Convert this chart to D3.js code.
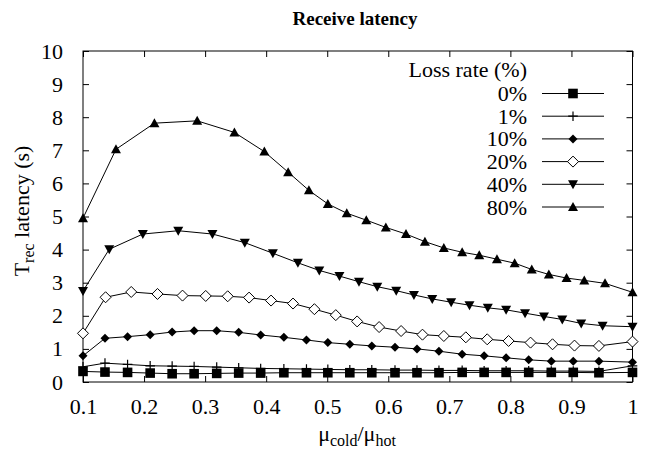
<!DOCTYPE html>
<html><head><meta charset="utf-8">
<script src="https://cdn.jsdelivr.net/npm/d3@7"></script>
<style>
html,body{margin:0;padding:0;background:#fff;}
</style></head>
<body><svg id="chart" width="645" height="454" font-family="Liberation Serif"></svg>
<script>
const title = "Receive latency";
const legendTitle = "Loss rate (%)";
const seriesNames = ["0%", "1%", "10%", "20%", "40%", "80%"];
const xTicks = [0.1,0.2,0.3,0.4,0.5,0.6,0.7,0.8,0.9,1];
const yTicks = [0,1,2,3,4,5,6,7,8,9,10];

const xLow = [0.1,0.136,0.173,0.210,0.246,0.282,0.319,0.355,0.391,0.429,0.466,0.501,0.537,0.573,0.611,0.647,0.683,0.721,0.757,0.793,0.830,0.867,0.903,0.945,1.0];
const x20 = [0.1,0.137,0.179,0.222,0.263,0.301,0.337,0.372,0.408,0.444,0.479,0.514,0.549,0.585,0.621,0.656,0.691,0.727,0.762,0.797,0.833,0.869,0.905,0.945,1.0];
const x40 = [0.1,0.143,0.198,0.256,0.312,0.365,0.411,0.452,0.487,0.520,0.552,0.582,0.613,0.642,0.672,0.703,0.733,0.763,0.793,0.824,0.855,0.885,0.916,0.951,1.0];
const x80 = [0.1,0.154,0.217,0.287,0.348,0.397,0.436,0.470,0.501,0.532,0.564,0.596,0.629,0.660,0.691,0.721,0.749,0.778,0.807,0.835,0.863,0.892,0.921,0.955,1.0];

const y0 = [0.32,0.30,0.29,0.27,0.25,0.25,0.26,0.27,0.27,0.28,0.28,0.28,0.28,0.28,0.28,0.28,0.28,0.29,0.29,0.29,0.29,0.29,0.29,0.28,0.29];
const y1 = [0.46,0.57,0.53,0.49,0.48,0.47,0.45,0.43,0.41,0.40,0.39,0.38,0.37,0.37,0.36,0.36,0.35,0.35,0.34,0.34,0.34,0.33,0.33,0.32,0.49];
const y10 = [0.79,1.32,1.37,1.43,1.51,1.55,1.55,1.50,1.42,1.35,1.27,1.19,1.14,1.09,1.05,1.00,0.93,0.84,0.79,0.73,0.67,0.63,0.63,0.63,0.60];
const y20 = [1.47,2.56,2.72,2.66,2.61,2.60,2.59,2.55,2.46,2.37,2.20,2.02,1.83,1.66,1.54,1.43,1.39,1.35,1.29,1.24,1.19,1.14,1.10,1.09,1.22];
const y40 = [2.75,4.01,4.47,4.57,4.47,4.21,3.89,3.60,3.37,3.20,3.03,2.88,2.76,2.63,2.51,2.41,2.32,2.24,2.18,2.08,1.98,1.89,1.77,1.70,1.67];
const y80 = [4.95,7.03,7.82,7.89,7.54,6.96,6.34,5.79,5.38,5.10,4.89,4.67,4.47,4.24,4.05,3.92,3.83,3.71,3.59,3.40,3.25,3.14,3.07,2.98,2.71];

const seriesX = [xLow, xLow, xLow, x20, x40, x80];
const seriesY = [y0, y1, y10, y20, y40, y80];
const markers = ["square","plus","diamondFilled","diamondOpen","triDown","triUp"];

const FONT = "Liberation Serif";
const FS = 22;
const svg = d3.select("#chart");
const m = {left:83, right:632.5, top:51, bottom:382};
const x = d3.scaleLinear().domain([0.1,1]).range([m.left, m.right]);
const y = d3.scaleLinear().domain([0,10]).range([m.bottom, m.top]);

function txt(sel){ return sel.append("text").attr("font-family", FONT).attr("fill","#000"); }

// title
txt(svg).attr("x", 355).attr("y", 25).attr("text-anchor","middle")
  .attr("font-weight","bold").attr("font-size", 19).text(title);

// frame
svg.append("rect").attr("x", m.left).attr("y", m.top)
  .attr("width", m.right-m.left).attr("height", m.bottom-m.top)
  .attr("fill","none").attr("stroke","#000").attr("stroke-width",1);

function styleAxis(g){
  g.attr("font-family", FONT).attr("font-size", FS);
  g.select(".domain").remove();
  g.selectAll("line").attr("stroke","#000");
  g.selectAll("text").attr("font-family", FONT).attr("font-size", FS).attr("fill","#000");
}
svg.append("g").attr("transform",`translate(0,${m.bottom})`)
  .call(d3.axisBottom(x).tickValues(xTicks).tickSize(-6).tickPadding(16).tickFormat(d=>String(d)))
  .call(styleAxis);
svg.append("g").attr("transform",`translate(0,${m.top})`)
  .call(d3.axisTop(x).tickValues(xTicks).tickSize(-6).tickFormat(""))
  .call(styleAxis);
svg.append("g").attr("transform",`translate(${m.left},0)`)
  .call(d3.axisLeft(y).tickValues(yTicks).tickSize(-6).tickPadding(20).tickFormat(d=>String(d)))
  .call(styleAxis);
svg.append("g").attr("transform",`translate(${m.right},0)`)
  .call(d3.axisRight(y).tickValues(yTicks).tickSize(-6).tickFormat(""))
  .call(styleAxis);

// axis labels
const yl = txt(svg).attr("transform","translate(29,211) rotate(-90)")
  .attr("text-anchor","middle").attr("font-size",FS);
yl.append("tspan").text("T");
yl.append("tspan").attr("font-size",16).attr("dy",5).text("rec");
yl.append("tspan").attr("dy",-5).text(" latency (s)");

const xl = txt(svg).attr("x", 357).attr("y", 441).attr("text-anchor","middle").attr("font-size",FS);
xl.append("tspan").text("μ");
xl.append("tspan").attr("font-size",16).attr("dy",5).text("cold");
xl.append("tspan").attr("dy",-5).text("/μ");
xl.append("tspan").attr("font-size",16).attr("dy",5).text("hot");

// markers
function drawMarker(g, type, cx, cy){
  const s = 4.8;
  if(type==="square"){
    g.append("rect").attr("x",cx-s).attr("y",cy-s).attr("width",2*s).attr("height",2*s).attr("fill","#000");
  } else if(type==="plus"){
    g.append("path").attr("d",`M${cx-s},${cy}H${cx+s}M${cx},${cy-s}V${cy+s}`).attr("stroke","#000").attr("stroke-width",1.2);
  } else if(type==="diamondFilled"){
    const d=4.5;
    g.append("path").attr("d",`M${cx},${cy-d}L${cx+d},${cy}L${cx},${cy+d}L${cx-d},${cy}Z`).attr("fill","#000");
  } else if(type==="diamondOpen"){
    const d=5.5;
    g.append("path").attr("d",`M${cx},${cy-d}L${cx+d},${cy}L${cx},${cy+d}L${cx-d},${cy}Z`).attr("fill","#fff").attr("stroke","#000").attr("stroke-width",1);
  } else if(type==="triDown"){
    g.append("path").attr("d",`M${cx-5},${cy-4}L${cx+5},${cy-4}L${cx},${cy+5}Z`).attr("fill","#000");
  } else if(type==="triUp"){
    g.append("path").attr("d",`M${cx-5},${cy+4}L${cx+5},${cy+4}L${cx},${cy-5}Z`).attr("fill","#000");
  }
}

const line = d3.line().x(d=>x(d[0])).y(d=>y(d[1]));
seriesNames.forEach((name,i)=>{
  const pts = seriesX[i].map((xv,j)=>[xv, seriesY[i][j]]);
  const g = svg.append("g");
  g.append("path").datum(pts).attr("d",line).attr("fill","none").attr("stroke","#000").attr("stroke-width",1);
  pts.forEach(p=>drawMarker(g, markers[i], x(p[0]), y(p[1])));
});

// legend
const lg = svg.append("g");
txt(lg).attr("x",527).attr("y",77).attr("text-anchor","end").attr("font-size",FS).text(legendTitle);
seriesNames.forEach((name,i)=>{
  const cy = 93.5 + i*22.7;
  txt(lg).attr("x",527).attr("y",cy+7.5).attr("text-anchor","end").attr("font-size",FS).text(name);
  lg.append("line").attr("x1",542).attr("x2",604).attr("y1",cy).attr("y2",cy).attr("stroke","#000").attr("stroke-width",1);
  drawMarker(lg, markers[i], 573, cy);
});
</script></body></html>
